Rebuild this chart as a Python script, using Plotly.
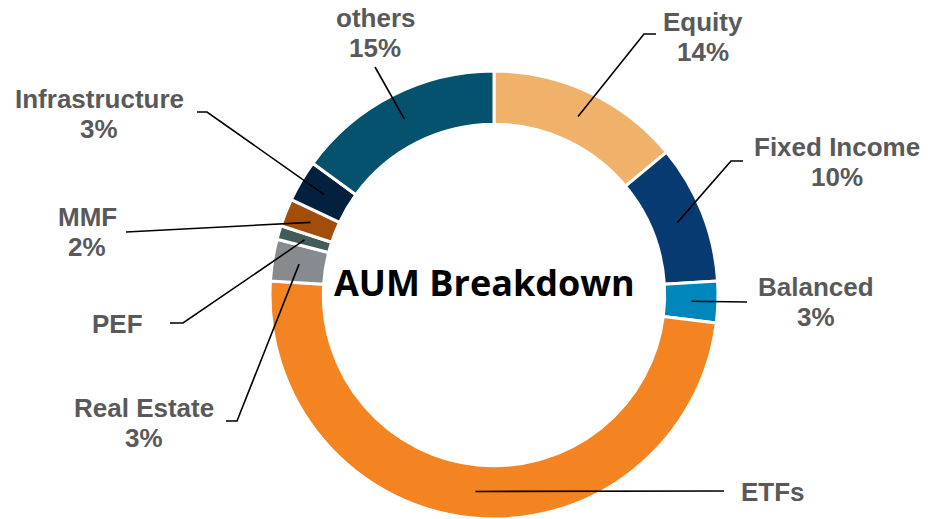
import math
import plotly.graph_objects as go

# ---- data ----
categories = ["Equity", "Fixed Income", "Balanced", "ETFs", "Real Estate",
              "PEF", "MMF", "Infrastructure", "others"]
values = [14, 10, 3, 49, 3, 1, 2, 3, 15]
show_pct = [True, True, True, False, True, False, True, True, True]
colors = ["#F0B16B", "#063A70", "#0086BA", "#F48322", "#888B8D",
          "#425C5A", "#A34D0B", "#03213F", "#04526D"]

# ---- layout constants (pixels) ----
W, H = 928, 519
CX, CY, R = 494, 295, 224
HOLE = 0.762
R_MID = R * (1 + HOLE) / 2
LINE_GAP = 30

# label centres (x, y of block middle) and leader-line waypoints (pixels)
label_pos = {
    "Equity": (703, 37), "Fixed Income": (837, 162), "Balanced": (816, 302),
    "ETFs": (773, 492), "Real Estate": (144, 423), "PEF": (118, 324),
    "MMF": (87, 232), "Infrastructure": (99, 114), "others": (375, 33),
}
leader_pts = {
    "Equity": [(644, 34), (656, 34)],
    "Fixed Income": [(731, 161), (743, 161)],
    "Balanced": [(747, 302)],
    "ETFs": [(724, 491)],
    "Real Estate": [(237, 421), (226, 421)],
    "PEF": [(183, 323), (170, 323)],
    "MMF": [(126, 232)],
    "Infrastructure": [(207, 112), (197, 112)],
    "others": [(375, 67)],
}


def px(x):
    return x / W


def py(y):
    return min(1.0, max(0.0, 1 - y / H))


fig = go.Figure(go.Pie(
    labels=categories, values=values, sort=False, direction="clockwise",
    rotation=0, hole=HOLE, textinfo="none", hoverinfo="label+percent",
    marker=dict(colors=colors, line=dict(color="white", width=3)),
    domain=dict(x=[px(CX - R), px(CX + R)], y=[py(CY + R), py(CY - R)]),
    showlegend=False,
))

label_font = dict(family="Liberation Sans, Arial, sans-serif", size=26,
                  color="#595959", weight="bold")

total = sum(values)
cum = 0
shapes, annotations = [], []
for cat, v, sp in zip(categories, values, show_pct):
    a = (cum + v / 2) / total * 2 * math.pi
    cum += v
    sx = CX + R_MID * math.sin(a)
    sy = CY - R_MID * math.cos(a)
    pts = [(sx, sy)] + leader_pts[cat]
    path = "M " + " L ".join(f"{px(x):.5f},{py(y):.5f}" for x, y in pts)
    shapes.append(dict(type="path", xref="paper", yref="paper", path=path,
                       line=dict(color="black", width=1.6)))
    lines = [cat] + ([f"{round(v / total * 100)}%"] if sp else [])
    lx, ly = label_pos[cat]
    y0 = ly - LINE_GAP * (len(lines) - 1) / 2
    for i, t in enumerate(lines):
        annotations.append(dict(
            text=t, x=px(lx), y=py(y0 + i * LINE_GAP), xref="paper",
            yref="paper", xanchor="center", yanchor="middle",
            showarrow=False, font=label_font))

annotations.append(dict(
    text="AUM Breakdown", x=px(484), y=py(282), xref="paper", yref="paper",
    xanchor="center", yanchor="middle", showarrow=False,
    font=dict(family="Open Sans, sans-serif", size=36, color="black",
              weight="bold")))

fig.update_layout(
    width=W, height=H, margin=dict(l=0, r=0, t=0, b=0),
    paper_bgcolor="white", plot_bgcolor="white",
    shapes=shapes, annotations=annotations,
)

fig.write_html("out.html", config={"displayModeBar": False},
               post_script="document.body.style.margin='0px';"
                           "document.body.style.overflow='hidden';")
